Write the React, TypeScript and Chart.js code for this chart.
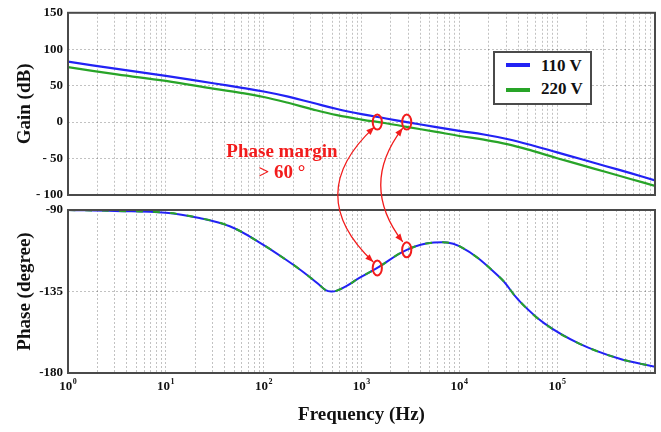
import React, { useEffect, useRef } from "react";
import { Chart, registerables } from "chart.js";

Chart.register(...registerables);

// ---------- data ----------
const gainFreqs = [1, 3.16, 10, 31.6, 56.2, 100, 178, 316, 562, 1000, 1780, 2900, 5620, 10000, 17800, 31600, 56200, 100000, 178000, 316000, 562000, 1000000];
const gain110 = [83, 73, 63.5, 53, 47.7, 42, 35, 26.5, 18, 11, 5, 0, -6.5, -12, -17, -23.5, -32, -41.5, -51, -60.5, -70, -80];
const gain220 = [75.5, 65.5, 56.5, 45.5, 40.5, 34.5, 26.5, 17.5, 9.5, 3.5, -1.5, -6.5, -13, -19, -24, -30.5, -39.5, -49.5, -59, -68.5, -78, -87.5];

const phaseFreqs = [1, 3, 10, 22, 45, 91, 186, 280, 370, 430, 490, 560, 700, 950, 1450, 2900, 5500, 10000, 25700, 40700, 74000, 166000, 427000, 1000000];
const phase110 = [-90, -90.5, -91.5, -94.4, -99, -108, -119, -126, -131.3, -134.2, -135, -134.5, -132, -127.5, -122, -112, -108, -110, -127, -140, -152.6, -163.6, -172, -176.5];
const phase220 = [-90, -90.5, -91.5, -94.4, -99, -108, -119, -126, -131.3, -134.2, -135, -134.5, -132, -127.5, -122, -112, -108, -110, -127, -140, -152.6, -163.6, -172, -176.5];

const marginFreqs = [1450, 2900];
const marginGain = [0, 0];
const marginPhase = [-122, -112];

const decadeValues = [1, 10, 100, 1000, 10000, 100000];
const decadeBase = "10";
const decadeExponents = ["0", "1", "2", "3", "4", "5"];
const minorMultipliers = [1, 2, 3, 4, 5, 6, 7, 8, 9];
const gainTicks = [-100, -50, 0, 50, 100, 150];
const phaseTicks = [-180, -135, -90];

const seriesLabels = ["110 V", "220 V"];

// ---------- styles ----------
const W = 661;
const H = 432;
const TOP_Y = 0;
const TOP_H = 210;
const BOT_Y = 195;
const BOT_H = 237;
const BLUE = "#2222f4";
const GREEN = "#28a428";
const RED = "#f21c1c";
const SERIF = '"Liberation Serif", "Times New Roman", "DejaVu Serif", serif';
const tickFont = { family: SERIF, size: 13, weight: "bold" as const };
const titleFont = { family: SERIF, size: 19, weight: "bold" as const };
const GRID = "rgba(0,0,0,0.24)";

const xGridValues: number[] = [];
decadeValues.forEach((d) => minorMultipliers.forEach((m) => xGridValues.push(m * d)));
xGridValues.push(1000000);

const pts = (xs: number[], ys: number[]) => xs.map((x, i) => ({ x, y: ys[i] }));

const framePlugin = {
  id: "frame",
  afterDraw(chart: any) {
    const { ctx, chartArea: a } = chart;
    ctx.save();
    ctx.strokeStyle = "#4a4a4a";
    ctx.lineWidth = 2;
    ctx.setLineDash([]);
    ctx.strokeRect(a.left, a.top, a.right - a.left, a.bottom - a.top);
    ctx.restore();
  },
};

// draws "10" with a raised exponent under each decade tick of the x scale
const decadeLabelPlugin = {
  id: "decadeLabels",
  afterDraw(chart: any) {
    const opts = chart.options.plugins?.decadeLabels;
    if (!opts || !opts.show) return;
    const { ctx, chartArea: a } = chart;
    const xs = chart.scales.x;
    ctx.save();
    ctx.fillStyle = "#111";
    ctx.textBaseline = "alphabetic";
    decadeValues.forEach((v, i) => {
      const px = xs.getPixelForValue(v);
      ctx.font = `bold 13px ${SERIF}`;
      const wBase = ctx.measureText(decadeBase).width;
      ctx.font = `bold 8px ${SERIF}`;
      const wExp = ctx.measureText(decadeExponents[i]).width;
      const left = px - (wBase + wExp + 0.5) / 2;
      ctx.font = `bold 13px ${SERIF}`;
      ctx.textAlign = "left";
      ctx.fillText(decadeBase, left, a.bottom + 17);
      ctx.font = `bold 8px ${SERIF}`;
      ctx.fillText(decadeExponents[i], left + wBase + 0.5, a.bottom + 11);
    });
    ctx.restore();
  },
};

function xAxis(showTitle: boolean, height: number) {
  return {
    type: "logarithmic" as const,
    min: 1,
    max: 1000000,
    afterBuildTicks: (s: any) => {
      s.ticks = xGridValues.map((v) => ({ value: v }));
    },
    afterFit: (s: any) => {
      s.height = height;
    },
    ticks: { display: false, autoSkip: false },
    grid: { color: GRID, lineWidth: 1, drawTicks: false },
    border: { display: false, dash: [2, 2] },
    title: {
      display: showTitle,
      text: "Frequency (Hz)",
      font: titleFont,
      color: "#111",
      padding: { top: 0, bottom: 6 },
    },
  };
}

function yAxis(min: number, max: number, ticks: number[], title: string, spaced: boolean) {
  return {
    min,
    max,
    afterBuildTicks: (s: any) => {
      s.ticks = ticks.map((v) => ({ value: v }));
    },
    afterFit: (s: any) => {
      s.width = 68;
    },
    ticks: {
      padding: 5,
      font: tickFont,
      color: "#111",
      callback: (v: any) => (spaced && Number(v) < 0 ? "- " + Math.abs(Number(v)) : String(v)),
    },
    grid: { color: GRID, lineWidth: 1, drawTicks: false },
    border: { display: false, dash: [2, 2] },
    title: {
      display: true,
      text: title,
      font: titleFont,
      color: "#111",
      padding: { top: 14, bottom: 0 },
    },
  };
}

function drawOverlay(top: Chart, bot: Chart, canvas: HTMLCanvasElement) {
  const ctx = canvas.getContext("2d");
  if (!ctx) return;
  ctx.clearRect(0, 0, W, H);
  const tx = top.scales.x;
  const ty = top.scales.y;
  const bx = bot.scales.x;
  const by = bot.scales.y;
  const bulges = [-36, -22];
  const endOffsets = [
    { sx: -3, sy: 5, ex: -4, ey: -6 },
    { sx: -4, sy: 6, ex: -4, ey: -8 },
  ];
  ctx.save();
  ctx.strokeStyle = RED;
  ctx.fillStyle = RED;
  marginFreqs.forEach((f, i) => {
    const x1 = tx.getPixelForValue(f);
    const y1 = ty.getPixelForValue(marginGain[i]) + TOP_Y;
    const x2 = bx.getPixelForValue(f);
    const y2 = by.getPixelForValue(marginPhase[i]) + BOT_Y;
    ctx.lineWidth = 2;
    [
      [x1, y1],
      [x2, y2],
    ].forEach(([cx, cy]) => {
      ctx.beginPath();
      ctx.ellipse(cx, cy, 4.6, 7.5, 0, 0, Math.PI * 2);
      ctx.stroke();
    });
    const o = endOffsets[i];
    const sx = x1 + o.sx;
    const sy = y1 + o.sy;
    const ex = x2 + o.ex;
    const ey = y2 + o.ey;
    const midX = (sx + ex) / 2;
    const ctrlX = midX + 2 * bulges[i];
    const ctrlY = (sy + ey) / 2;
    ctx.lineWidth = 1.3;
    ctx.beginPath();
    ctx.moveTo(sx, sy);
    ctx.quadraticCurveTo(ctrlX, ctrlY, ex, ey);
    ctx.stroke();
    const head = (px: number, py: number, fromX: number, fromY: number) => {
      const ang = Math.atan2(py - fromY, px - fromX);
      const L = 8;
      const Wd = 3.2;
      ctx.beginPath();
      ctx.moveTo(px, py);
      ctx.lineTo(px - L * Math.cos(ang) + Wd * Math.sin(ang), py - L * Math.sin(ang) - Wd * Math.cos(ang));
      ctx.lineTo(px - L * Math.cos(ang) - Wd * Math.sin(ang), py - L * Math.sin(ang) + Wd * Math.cos(ang));
      ctx.closePath();
      ctx.fill();
    };
    head(sx, sy, ctrlX, ctrlY);
    head(ex, ey, ctrlX, ctrlY);
  });
  ctx.restore();
}

export default function App() {
  const topRef = useRef<HTMLCanvasElement>(null);
  const botRef = useRef<HTMLCanvasElement>(null);
  const ovRef = useRef<HTMLCanvasElement>(null);

  useEffect(() => {
    if (!topRef.current || !botRef.current || !ovRef.current) return;
    const common = {
      responsive: false,
      maintainAspectRatio: false,
      animation: false as const,
      devicePixelRatio: 1,
      events: [] as any[],
    };
    const top = new Chart(topRef.current, {
      type: "line",
      data: {
        datasets: [
          { label: seriesLabels[0], data: pts(gainFreqs, gain110), borderColor: BLUE, borderWidth: 2.2, pointRadius: 0, tension: 0.4 },
          { label: seriesLabels[1], data: pts(gainFreqs, gain220), borderColor: GREEN, borderWidth: 2.2, pointRadius: 0, tension: 0.4 },
        ],
      },
      options: {
        ...common,
        plugins: { legend: { display: false }, tooltip: { enabled: false }, decadeLabels: { show: false } },
        layout: { padding: { left: 0, right: 6, top: 10, bottom: 0 } },
        scales: {
          x: xAxis(false, 15) as any,
          y: yAxis(-100, 150, gainTicks, "Gain (dB)", true) as any,
        },
      } as any,
      plugins: [framePlugin, decadeLabelPlugin],
    });
    const bot = new Chart(botRef.current, {
      type: "line",
      data: {
        datasets: [
          { label: seriesLabels[0], data: pts(phaseFreqs, phase110), borderColor: BLUE, borderWidth: 2, pointRadius: 0, tension: 0.4, order: 2 },
          { label: seriesLabels[1], data: pts(phaseFreqs, phase220), borderColor: GREEN, borderWidth: 2, pointRadius: 0, tension: 0.4, order: 1, borderDash: [7, 10] },
        ],
      },
      options: {
        ...common,
        plugins: { legend: { display: false }, tooltip: { enabled: false }, decadeLabels: { show: true } },
        layout: { padding: { left: 0, right: 6, top: 15, bottom: 0 } },
        scales: {
          x: xAxis(true, 59) as any,
          y: yAxis(-180, -90, phaseTicks, "Phase (degree)", false) as any,
        },
      } as any,
      plugins: [framePlugin, decadeLabelPlugin],
    });
    drawOverlay(top, bot, ovRef.current);
    return () => {
      top.destroy();
      bot.destroy();
    };
  }, []);

  const legendText: React.CSSProperties = {
    position: "absolute",
    left: 46,
    fontFamily: SERIF,
    fontWeight: "bold",
    fontSize: 17,
    lineHeight: "20px",
    color: "#111",
    whiteSpace: "nowrap",
  };
  const legendLine = (color: string, top: number): React.CSSProperties => ({
    position: "absolute",
    left: 11,
    top,
    width: 24,
    height: 4,
    background: color,
  });

  return (
    <div style={{ position: "fixed", left: 0, top: 0, width: W, height: H, background: "#fff", overflow: "hidden" }}>
      <canvas ref={topRef} width={W} height={TOP_H} style={{ position: "absolute", left: 0, top: TOP_Y }} />
      <canvas ref={botRef} width={W} height={BOT_H} style={{ position: "absolute", left: 0, top: BOT_Y }} />
      <canvas ref={ovRef} width={W} height={H} style={{ position: "absolute", left: 0, top: 0, pointerEvents: "none" }} />
      <div
        style={{
          position: "absolute",
          left: 493,
          top: 51,
          width: 99,
          height: 54,
          boxSizing: "border-box",
          border: "2px solid #4a4a4a",
          background: "#fff",
        }}
      >
        <div style={legendLine(BLUE, 10)} />
        <div style={{ ...legendText, top: 3 }}>{seriesLabels[0]}</div>
        <div style={legendLine(GREEN, 35)} />
        <div style={{ ...legendText, top: 26 }}>{seriesLabels[1]}</div>
      </div>
      <div
        style={{
          position: "absolute",
          left: 212,
          top: 140,
          width: 140,
          textAlign: "center",
          fontFamily: SERIF,
          fontWeight: "bold",
          fontSize: 19,
          lineHeight: "21px",
          color: RED,
          whiteSpace: "nowrap",
        }}
      >
        <div>Phase margin</div>
        <div>&gt; 60 °</div>
      </div>
    </div>
  );
}
